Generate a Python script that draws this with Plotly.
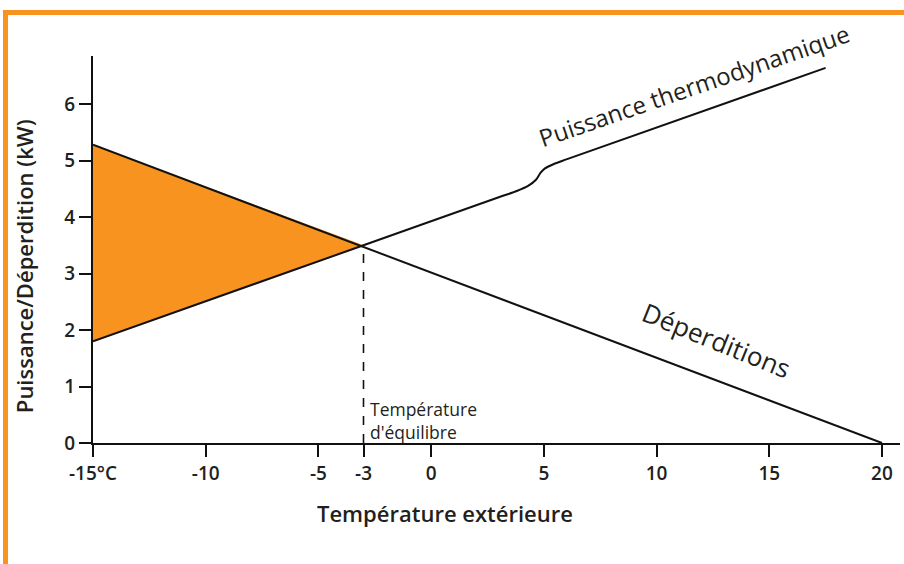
import plotly.graph_objects as go

# Data
x_dep = [-15, 20]
y_dep = [5.28, 0]

x_pac = [-15, -3, 3.0, 3.8, 4.3, 4.65, 4.85, 5.05, 5.4, 6.0, 17.5]
y_pac = [1.8, 3.5, 4.35, 4.46, 4.55, 4.66, 4.78, 4.86, 4.93, 5.02, 6.64]

x_fill = [-15, -3, -15]
y_fill = [5.28, 3.5, 1.8]

x_eq = [-3, -3]
y_eq = [0, 3.5]

x_ticks = [-15, -10, -5, -3, 0, 5, 10, 15, 20]
x_labels = ["-15°C", "-10", "-5", "-3", "0", "5", "10", "15", "20"]
y_ticks = [0, 1, 2, 3, 4, 5, 6]

ORANGE = "#F7931E"
FONT = "Open Sans"
TXT = "#231f20"

fig = go.Figure()
fig.add_trace(go.Scatter(x=x_fill, y=y_fill, fill="toself", fillcolor=ORANGE,
                         mode="lines", line=dict(width=0), hoverinfo="skip"))
fig.add_trace(go.Scatter(x=x_dep, y=y_dep, mode="lines", line=dict(color="#111", width=2)))
fig.add_trace(go.Scatter(x=x_pac, y=y_pac, mode="lines",
                         line=dict(color="#111", width=2, shape="spline", smoothing=0.8)))
fig.add_trace(go.Scatter(x=x_eq, y=y_eq, mode="lines", line=dict(color="#111", width=1.6, dash="dash")))

fig.add_annotation(x=11.65, y=6.32, text="Puissance thermodynamique", showarrow=False,
                   textangle=-19, font=dict(family=FONT, size=24, color=TXT))
fig.add_annotation(x=12.64, y=1.82, text="Déperditions", showarrow=False,
                   textangle=22, font=dict(family=FONT, size=26, color=TXT))
fig.add_annotation(x=-2.8, y=0.39, text="Température<br>d'équilibre", showarrow=False,
                   xanchor="left", yanchor="middle", align="left",
                   font=dict(family=FONT, size=17.5, color=TXT))

# axis titles
fig.add_annotation(xref="paper", yref="paper", x=0.436, y=-0.181, text="Température extérieure",
                   showarrow=False, xanchor="center", yanchor="middle",
                   font=dict(family=FONT, size=22, color=TXT, weight=600))
fig.add_annotation(xref="paper", yref="paper", x=-0.0855, y=0.457, text="Puissance/Déperdition (kW)",
                   showarrow=False, textangle=-90, xanchor="center", yanchor="middle",
                   font=dict(family=FONT, size=22, color=TXT, weight=600))

shapes = [
    dict(type="rect", xref="paper", yref="paper", x0=-0.1115, x1=1.006, y0=1.106, y1=1.119,
         fillcolor=ORANGE, line=dict(width=0), layer="above"),
    dict(type="rect", xref="paper", yref="paper", x0=-0.1115, x1=-0.1053, y0=-0.32, y1=1.119,
         fillcolor=ORANGE, line=dict(width=0), layer="above"),
]

fig.update_layout(
    width=904, height=564,
    margin=dict(l=93, r=4, t=56, b=121, autoexpand=False),
    plot_bgcolor="white", paper_bgcolor="white",
    showlegend=False,
    shapes=shapes,
    font=dict(family=FONT, color=TXT),
    xaxis=dict(range=[-15, 20.8], tickvals=x_ticks, ticktext=x_labels, automargin=False,
               showgrid=False, zeroline=False, showline=True, linecolor="#111", linewidth=2,
               ticks="outside", ticklen=12, tickwidth=2, tickcolor="#111",
               tickfont=dict(family=FONT, size=19, color=TXT, weight=600)),
    yaxis=dict(range=[0, 6.85], tickvals=y_ticks, automargin=False,
               showgrid=False, zeroline=False, showline=True, linecolor="#111", linewidth=2,
               ticks="outside", ticklen=12, tickwidth=2, tickcolor="#111",
               tickfont=dict(family=FONT, size=19, color=TXT, weight=600)),
)

fig.write_html("out.html", config={"displayModeBar": False},
               post_script="document.body.style.margin='0px';document.body.style.overflow='hidden';")
